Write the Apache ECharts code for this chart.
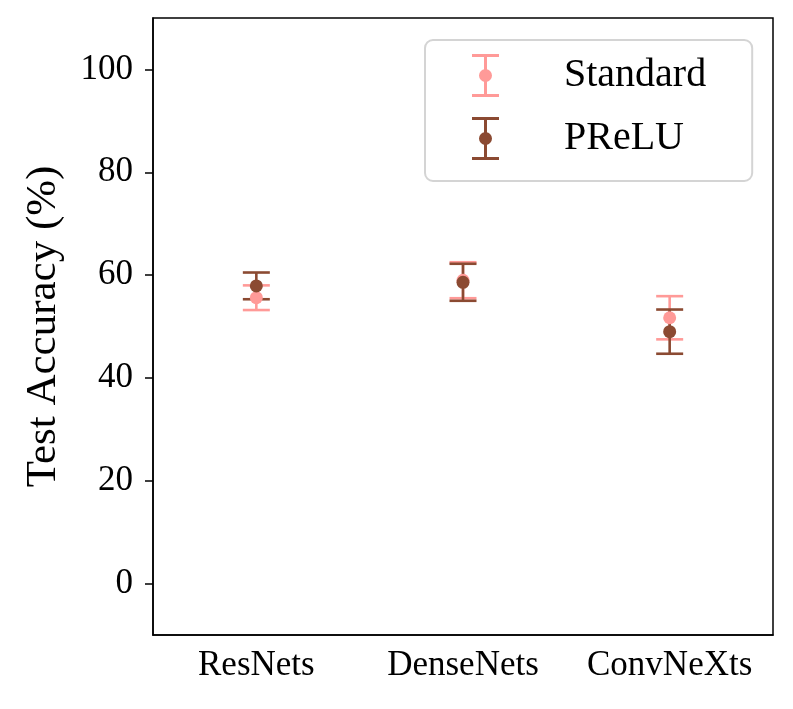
<!DOCTYPE html>
<html>
<head>
<meta charset="utf-8">
<script src="https://cdn.jsdelivr.net/npm/echarts@6/dist/echarts.min.js"></script>
<style>
  html, body { margin: 0; padding: 0; background: #ffffff; }
  #chart { width: 793px; height: 709px; }
</style>
</head>
<body>
<div id="chart"></div>
<script>
// Test accuracy per architecture family, Standard vs PReLU (mean ± error).
const categories   = ['ResNets', 'DenseNets', 'ConvNeXts'];
const standardMean = [55.6, 59.0, 51.7];
const standardErr  = [2.4, 3.5, 4.2];
const preluMean    = [57.9, 58.6, 49.0];
const preluErr     = [2.6, 3.6, 4.3];
const yTicks       = [0, 20, 40, 60, 80, 100];

const PINK  = '#ff9a98';
const BROWN = '#8b4a32';
const FONT  = '"Liberation Serif", "DejaVu Serif", serif';

// I-beam with a dot, used as the legend marker
const ICON = 'path://M0,0H27V3H15V40H27V43H0V40H12V3H0Z' +
             'M7,21.5A6.5,6.5 0 1,1 20,21.5A6.5,6.5 0 1,1 7,21.5Z';

function bars(mean, err) {
    return mean.map((m, i) => [i, m - err[i], m + err[i]]);
}

function renderBar(params, api) {
    const lo = api.coord([api.value(0), api.value(1)]);
    const hi = api.coord([api.value(0), api.value(2)]);
    const half = 13.5;
    const style = { stroke: api.visual('color'), lineWidth: 2.6 };
    return {
        type: 'group',
        children: [
            { type: 'line', shape: { x1: lo[0], y1: lo[1], x2: hi[0], y2: hi[1] }, style },
            { type: 'line', shape: { x1: hi[0] - half, y1: hi[1], x2: hi[0] + half, y2: hi[1] }, style },
            { type: 'line', shape: { x1: lo[0] - half, y1: lo[1], x2: lo[0] + half, y2: lo[1] }, style }
        ]
    };
}

const chart = echarts.init(document.getElementById('chart'));

chart.setOption({
    animation: false,
    backgroundColor: '#ffffff',
    textStyle: { fontFamily: FONT },
    grid: {
        left: 153, right: 20, top: 18, bottom: 74,
        show: true, borderColor: '#000000', borderWidth: 1.5,
        backgroundColor: 'transparent'
    },
    legend: {
        orient: 'vertical',
        left: 425, top: 40,
        padding: [14, 46, 21, 47],
        itemGap: 20,
        itemWidth: 27, itemHeight: 43,
        backgroundColor: 'rgba(255,255,255,0.8)',
        borderColor: '#d4d4d4', borderWidth: 2, borderRadius: 8,
        itemStyle: { borderWidth: 0 },
        textStyle: {
            fontFamily: FONT, fontSize: 40, color: '#000000',
            padding: [0, 0, 0, 60]
        },
        data: [
            { name: 'Standard', icon: ICON },
            { name: 'PReLU', icon: ICON }
        ]
    },
    xAxis: {
        type: 'category',
        data: categories,
        boundaryGap: true,
        axisLine: { onZero: false, lineStyle: { color: '#000000', width: 1.5 } },
        axisTick: { alignWithLabel: true, length: 8, lineStyle: { color: '#000000', width: 1.5 } },
        axisLabel: { interval: 0, fontFamily: FONT, fontSize: 35, color: '#000000', margin: 13 },
        splitLine: { show: false }
    },
    yAxis: {
        type: 'value',
        min: -10, max: 110,
        name: 'Test Accuracy (%)',
        nameLocation: 'middle',
        nameGap: 88,
        nameTextStyle: { fontFamily: FONT, fontSize: 43, color: '#000000' },
        axisLine: { show: true, lineStyle: { color: '#000000', width: 1.5 } },
        axisTick: { show: true, length: 8, customValues: yTicks, lineStyle: { color: '#000000', width: 1.5 } },
        axisLabel: { fontFamily: FONT, fontSize: 35, color: '#000000', margin: 20, customValues: yTicks },
        splitLine: { show: false }
    },
    series: [
        {
            name: 'Standard', type: 'custom', renderItem: renderBar,
            itemStyle: { color: PINK }, encode: { x: 0, y: [1, 2] },
            data: bars(standardMean, standardErr), z: 2
        },
        {
            name: 'PReLU', type: 'custom', renderItem: renderBar,
            itemStyle: { color: BROWN }, encode: { x: 0, y: [1, 2] },
            data: bars(preluMean, preluErr), z: 3
        },
        {
            name: 'Standard', type: 'scatter', symbol: 'circle', symbolSize: 13,
            itemStyle: { color: PINK, opacity: 1 }, data: standardMean, z: 4
        },
        {
            name: 'PReLU', type: 'scatter', symbol: 'circle', symbolSize: 13,
            itemStyle: { color: BROWN, opacity: 1 }, data: preluMean, z: 5
        }
    ]
});
</script>
</body>
</html>
